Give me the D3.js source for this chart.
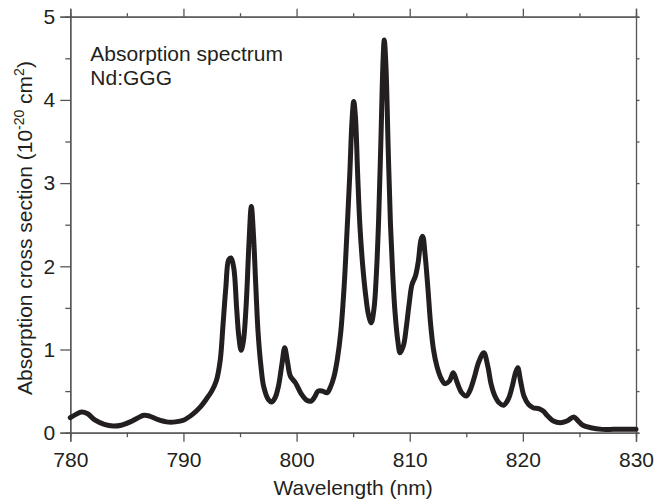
<!DOCTYPE html>
<html>
<head>
<meta charset="utf-8">
<script src="https://cdn.jsdelivr.net/npm/d3@7"></script>
<style>
  body { margin: 0; background: #fff; }
  svg text { font-family: "Liberation Sans", Arial, sans-serif; fill: #231f20; }
</style>
</head>
<body>
<svg id="chart" width="656" height="500"></svg>
<script>
// wavelength (nm) and absorption cross section (1e-20 cm^2)
const wavelength = [
  780.0, 780.5, 781.0, 781.5, 782.2, 783.0, 783.8, 784.5, 785.3, 786.0,
  786.5, 787.0, 787.7, 788.5, 789.3, 790.0, 790.8, 791.5, 792.0, 792.5,
  792.9, 793.25, 793.5, 793.75, 794.0, 794.2, 794.45, 794.7, 794.9, 795.1,
  795.3, 795.55, 795.8, 796.0, 796.2, 796.4, 796.6, 796.85, 797.1, 797.5,
  797.8, 798.1, 798.4, 798.7, 798.95, 799.2, 799.45, 799.9, 800.4, 800.9,
  801.3, 801.6, 801.9, 802.3, 802.7, 803.0, 803.3, 803.6, 803.9, 804.2,
  804.45, 804.7, 804.9, 805.05, 805.2, 805.4, 805.6, 805.85, 806.1, 806.35,
  806.6, 806.85, 807.05, 807.25, 807.45, 807.65, 807.75, 807.9, 808.1, 808.3,
  808.5, 808.7, 808.95, 809.15, 809.45, 809.7, 809.95, 810.2, 810.5, 810.75,
  811.0, 811.15, 811.35, 811.6, 811.85, 812.1, 812.4, 812.75, 813.1, 813.5,
  813.85, 814.2, 814.6, 815.0, 815.3, 815.7, 816.1, 816.55, 816.9, 817.2,
  817.5, 817.9, 818.3, 818.7, 819.05, 819.35, 819.55, 819.8, 820.1, 820.5,
  820.9, 821.4, 821.8, 822.2, 822.7, 823.3, 823.9, 824.5, 824.9, 825.3,
  826.0, 827.0, 828.0, 829.0, 830.0
];
const crossSection = [
  0.18, 0.22, 0.25, 0.23, 0.15, 0.10, 0.08, 0.09, 0.13, 0.18,
  0.21, 0.20, 0.16, 0.13, 0.13, 0.15, 0.22, 0.31, 0.40, 0.50,
  0.62, 0.87, 1.30, 1.75, 2.08, 2.10, 1.98, 1.50, 1.15, 0.99,
  1.10, 1.55, 2.30, 2.72, 2.35, 1.75, 1.20, 0.80, 0.55, 0.40,
  0.37, 0.42, 0.56, 0.82, 1.02, 0.85, 0.68, 0.60, 0.47, 0.39,
  0.38, 0.43, 0.50, 0.50, 0.48, 0.55, 0.67, 0.88, 1.20, 1.75,
  2.40, 3.10, 3.75, 3.98, 3.80, 3.10, 2.48, 2.00, 1.66, 1.42,
  1.32, 1.50, 1.90, 2.55, 3.50, 4.50, 4.72, 4.40, 3.40, 2.50,
  1.90, 1.45, 1.10, 0.96, 1.05, 1.27, 1.55, 1.78, 1.88, 2.05,
  2.32, 2.36, 2.15, 1.75, 1.30, 1.00, 0.80, 0.66, 0.59, 0.62,
  0.72, 0.60, 0.48, 0.44, 0.50, 0.66, 0.85, 0.96, 0.80, 0.58,
  0.45, 0.36, 0.33, 0.40, 0.55, 0.72, 0.78, 0.62, 0.44, 0.34,
  0.30, 0.29, 0.26, 0.20, 0.14, 0.12, 0.14, 0.19, 0.14, 0.09,
  0.06, 0.04, 0.04, 0.04, 0.04
];
const xTicks = [780, 790, 800, 810, 820, 830];
const xMinor = [785, 795, 805, 815, 825];
const yTicks = [0, 1, 2, 3, 4, 5];
const yMinor = [0.5, 1.5, 2.5, 3.5, 4.5];

const margin = { top: 16.7, right: 20, bottom: 67.3, left: 70.3 };
const svg = d3.select('#chart');
const width = +svg.attr('width');
const height = +svg.attr('height');
const innerWidth = width - margin.left - margin.right;
const innerHeight = height - margin.top - margin.bottom;

const g = svg.append('g')
    .attr('transform', `translate(${margin.left}, ${margin.top})`);

const x = d3.scaleLinear().domain([780, 830]).range([0, innerWidth]);
const y = d3.scaleLinear().domain([0, 5]).range([innerHeight, 0]);

const axisColor = '#555';

const styleAxis = (sel) => {
    sel.selectAll('path').attr('stroke', axisColor).attr('stroke-width', 1.3);
    sel.selectAll('line').attr('stroke', axisColor).attr('stroke-width', 1.3);
    // drop the empty labels of tick-only axes
    sel.selectAll('text').filter(function () { return this.textContent === ''; }).remove();
    sel.selectAll('text')
        .style('font-size', '21px')
        .attr('fill', '#231f20');
};

// bottom
g.append('g')
    .attr('transform', `translate(0,${innerHeight})`)
    .call(d3.axisBottom(x).tickValues(xMinor).tickSize(4.5).tickFormat(''))
    .call(styleAxis);
g.append('g')
    .attr('transform', `translate(0,${innerHeight})`)
    .call(d3.axisBottom(x).tickValues(xTicks).tickSize(9).tickPadding(10).tickFormat(d3.format('d')))
    .call(styleAxis);

// top
g.append('g')
    .call(d3.axisTop(x).tickValues(xMinor).tickSize(3.5).tickFormat(''))
    .call(styleAxis);
g.append('g')
    .call(d3.axisTop(x).tickValues(xTicks).tickSize(8).tickFormat(''))
    .call(styleAxis);

// left
g.append('g')
    .call(d3.axisLeft(y).tickValues(yMinor).tickSize(5).tickFormat(''))
    .call(styleAxis);
g.append('g')
    .call(d3.axisLeft(y).tickValues(yTicks).tickSize(10).tickPadding(5).tickFormat(d3.format('d')))
    .call(styleAxis);

// right
g.append('g')
    .attr('transform', `translate(${innerWidth},0)`)
    .call(d3.axisRight(y).tickValues(yTicks.concat(yMinor)).tickSize(3.5).tickFormat(''))
    .call(styleAxis);

const data = wavelength.map((w, i) => ({ w: w, v: crossSection[i] }));

const line = d3.line()
    .x(d => x(d.w))
    .y(d => y(d.v))
    .curve(d3.curveCatmullRom.alpha(0.5));

g.append('path')
    .datum(data)
    .attr('fill', 'none')
    .attr('stroke', '#231f20')
    .attr('stroke-width', 5)
    .attr('stroke-linejoin', 'round')
    .attr('stroke-linecap', 'round')
    .attr('d', line);

// inset text
g.append('text')
    .attr('x', 20)
    .attr('y', 44.5)
    .style('font-size', '21px')
    .text('Absorption spectrum');
g.append('text')
    .attr('x', 20)
    .attr('y', 68)
    .style('font-size', '21px')
    .text('Nd:GGG');

// axis labels
svg.append('text')
    .attr('x', margin.left + innerWidth / 2)
    .attr('y', 494.5)
    .attr('text-anchor', 'middle')
    .style('font-size', '21px')
    .text('Wavelength (nm)');

const yLabel = svg.append('text')
    .attr('transform', 'translate(31.5,228) rotate(-90)')
    .attr('text-anchor', 'middle')
    .style('font-size', '21px');
yLabel.append('tspan').text('Absorption cross section (10');
yLabel.append('tspan').attr('dy', -8).style('font-size', '14px').text('-20');
yLabel.append('tspan').attr('dy', 8).text(' cm');
yLabel.append('tspan').attr('dy', -8).style('font-size', '14px').text('2');
yLabel.append('tspan').attr('dy', 8).text(')');
</script>
</body>
</html>
